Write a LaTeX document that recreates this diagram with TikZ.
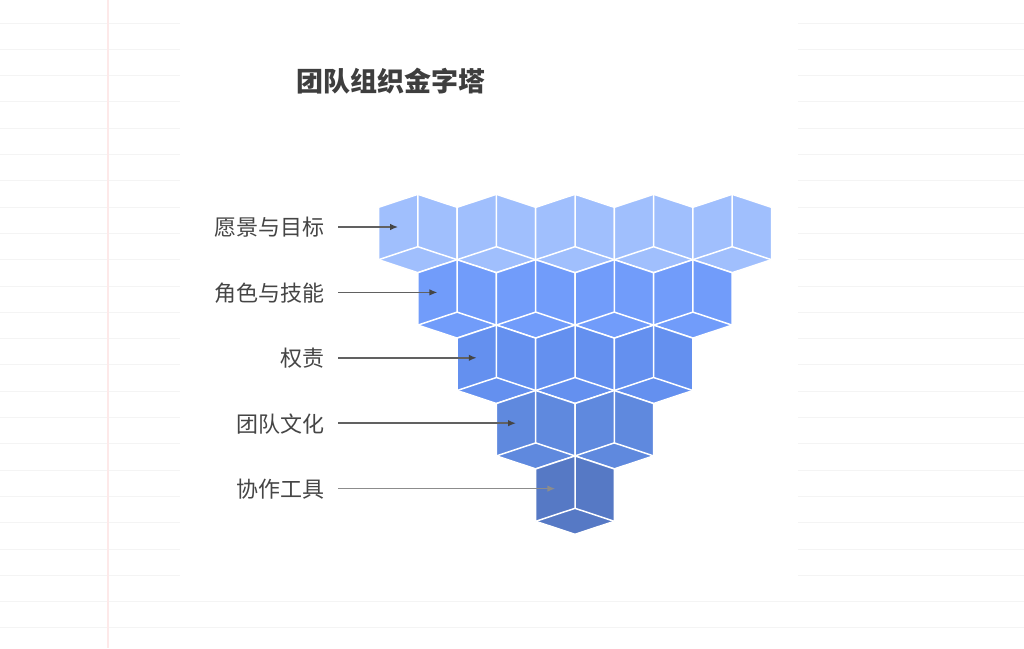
\documentclass[tikz,border=0pt]{standalone}
\usepackage{fontspec}
\newfontfamily\cjk{Noto Sans CJK SC}
\usetikzlibrary{arrows.meta}
\definecolor{rowa}{HTML}{A0BFFD}
\definecolor{rowb}{HTML}{719CFA}
\definecolor{rowc}{HTML}{6490EF}
\definecolor{rowd}{HTML}{5F89DE}
\definecolor{rowe}{HTML}{5679C5}
\definecolor{ink}{HTML}{454545}
\definecolor{rule}{HTML}{F4F4F4}
\definecolor{margin}{HTML}{FDE9E9}
\tikzset{
  facet/.style={draw=white,line width=1.5pt,line join=round},
  label/.style={font=\cjk\fontsize{22pt}{22pt}\selectfont,text=ink,anchor=east,
    inner sep=0pt,text height=0.88em,text depth=0.12em},
  pointer/.style={->,line width=1.5pt,shorten <=13pt}
}
% one cube seen from below: #1 = x of top vertex, #2 = y of top vertex, #3 = colour
\newcommand{\cubehex}[3]{%
  \filldraw[fill=#3,facet] (#1,#2) -- ++(39.3,13) -- ++(0,52.4) -- ++(-39.3,13)
    -- ++(-39.3,-13) -- ++(0,-52.4) -- cycle;
  \draw[facet] (#1,#2) -- ++(0,52.4) -- ++(-39.3,13) ++(39.3,-13) -- ++(39.3,13);
}
\begin{document}
\begin{tikzpicture}[x=1pt,y=-1pt,>={Latex[length=8pt,width=6.5pt]}]
\useasboundingbox (0,0) rectangle (1024,648);
\fill[white] (0,0) rectangle (1024,648);
% ruled paper
\foreach \k in {0,...,23}
  \draw[rule,line width=1pt] (0,23+26.3*\k) -- (1024,23+26.3*\k);
\draw[margin,line width=1.2pt] (108,0) -- (108,648);
\fill[white] (180,-5) rectangle (798,588);

\node (title) at (391,81) {\cjk\bfseries\fontsize{27pt}{27pt}\selectfont\textcolor{ink!90!black}{团队组织金字塔}};

% rows of cubes
\foreach \k/\col in {0/rowa,1/rowb,2/rowc,3/rowd,4/rowe} {
  \pgfmathtruncatemacro\last{4-\k}
  \pgfmathsetmacro\ty{194.3+65.4*\k}
  \foreach \i in {0,...,\last} {
    \pgfmathsetmacro\cx{575-39.3*(4-\k)+78.6*\i}
    \cubehex{\cx}{\ty}{\col}
  }
  \coordinate (tip\k) at ({575-39.3*(4-\k)-19.65},{\ty+32.7});
}

% labels and pointers
\foreach \k/\txt in {0/愿景与目标,1/角色与技能,2/权责,3/团队文化,4/协作工具}
  \node[label] (lab\k) at (325,{232+65.4*\k}) {\txt};
\foreach \k in {0,...,3}
  \draw[pointer,draw=ink!85,-{Latex[length=8pt,width=6.5pt,fill=ink,color=ink]}] (lab\k.east|-tip\k) -- (tip\k);
\draw[pointer,draw=gray!90] (lab4.east|-tip4) -- (tip4);
\end{tikzpicture}
\end{document}
